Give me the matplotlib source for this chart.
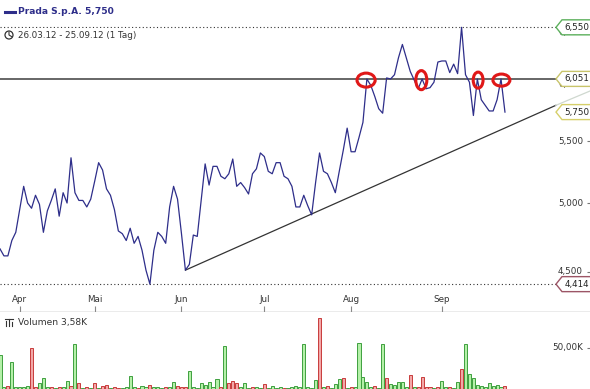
import matplotlib
matplotlib.use("Agg")
import matplotlib.pyplot as plt
from matplotlib.patches import Ellipse, Polygon, Circle
from matplotlib.transforms import blended_transform_factory, IdentityTransform
from matplotlib.ticker import NullLocator
from matplotlib.lines import Line2D

# ---------------- data ----------------
close = [4.66, 4.61, 4.61, 4.72, 4.78, 4.95, 5.13, 5.00, 4.96, 5.06,
         4.99, 4.78, 4.94, 5.02, 5.11, 4.90, 5.08, 5.00, 5.36, 5.08,
         5.02, 5.02, 4.97, 5.03, 5.17, 5.32, 5.26, 5.11, 5.06, 4.95,
         4.79, 4.77, 4.72, 4.81, 4.70, 4.75, 4.65, 4.51, 4.414, 4.65,
         4.78, 4.75, 4.70, 4.97, 5.13, 5.03, 4.77, 4.51, 4.55, 4.76,
         4.75, 5.02, 5.31, 5.14, 5.29, 5.29, 5.21, 5.19, 5.23, 5.35,
         5.13, 5.16, 5.12, 5.07, 5.23, 5.27, 5.40, 5.37, 5.25, 5.23,
         5.32, 5.32, 5.21, 5.19, 5.13, 4.97, 4.97, 5.06, 4.98, 4.91,
         5.16, 5.40, 5.25, 5.23, 5.16, 5.08, 5.25, 5.42, 5.61, 5.41,
         5.41, 5.53, 5.66, 6.05, 5.99, 5.89, 5.78, 5.74, 6.06, 6.05,
         6.09, 6.25, 6.38, 6.25, 6.12, 6.04, 5.96, 6.05, 5.96, 5.97,
         6.02, 6.21, 6.22, 6.22, 6.11, 6.19, 6.10, 6.55, 6.09, 6.02,
         5.72, 6.05, 5.86, 5.81, 5.76, 5.76, 5.86, 6.05, 5.75]

volume_k = [41, 2, 4, 33, 2, 2, 2, 4, 50, 2,
            7, 13, 2, 2, 1, 2, 2, 10, 4, 55,
            7, 1, 2, 1, 7, 1, 4, 5, 1, 2,
            1, 1, 2, 16, 2, 1, 4, 2, 5, 2,
            2, 1, 2, 3, 8, 4, 2, 3, 22, 2,
            1, 7, 5, 8, 2, 12, 2, 52, 7, 10,
            7, 2, 7, 1, 2, 2, 1, 6, 1, 4,
            1, 2, 1, 1, 2, 4, 2, 55, 2, 1,
            11, 87, 2, 4, 1, 6, 12, 13, 1, 2,
            2, 56, 15, 9, 2, 4, 1, 55, 13, 6,
            5, 8, 9, 2, 17, 3, 2, 15, 2, 2,
            1, 3, 10, 2, 3, 1, 8, 24, 55, 18,
            13, 5, 4, 2, 7, 4, 5, 2, 3.58]

volume_dir = list("ggrgggggrr" "gggrgrggrg" "rgrgrgrrgr" "rggggrggrg"
                  "ggrggrrrgg" "ggggggrgrr" "rgggrggrgg" "ggrggggggg"
                  "grgrgggrgr" "gggggrggrg" "ggggrgrrrr" "grggrggrgg"
                  "ggggggggr")

month_idx = [5, 24, 46, 67, 89, 112]
month_lbl = ["Apr", "Mai", "Jun", "Jul", "Aug", "Sep"]

price_ticks = [4.5, 5.0, 5.5, 6.0, 6.5]
level_high = 6.550
level_low = 4.414
level_res = 6.051
last_price = 5.750

trend_x = [47, 140.9]
trend_y = [4.51, 5.81]
trend_ext_x = [140.9, 149.6]
trend_ext_y = [5.81, 5.94]

circle_x = [92.8, 106.8, 121.2, 127.1]
circle_y = [6.04, 6.04, 6.04, 6.04]
circle_w = [4.6, 2.8, 2.5, 4.3]
circle_h = [0.13, 0.177, 0.149, 0.112]

# ---------------- layout ----------------
W, H = 590, 389
fig = plt.figure(figsize=(W / 100, H / 100), dpi=100)
fig.patch.set_facecolor("white")

def fy(py):
    return 1 - py / H

ax = fig.add_axes([0, fy(312), 1, 312 / H])
axv = fig.add_axes([0, 0, 1, 77 / H])

days = list(range(len(close)))
XMAX = 590 / 3.945

LINE = "#2e2e8a"

ax.set_yscale("log")
ax.set_xlim(0, XMAX)
ax.set_ylim(4.229, 6.831)
ax.yaxis.set_minor_locator(NullLocator())
ax.set_yticks(price_ticks)
ax.yaxis.tick_right()
ax.tick_params(axis="y", direction="in", length=2.5, color="#777",
               labelright=False, labelleft=False)
ax.set_xticks(month_idx)
ax.tick_params(axis="x", direction="in", length=4, color="#888",
               labelbottom=False)
for s in ["top", "left", "right"]:
    ax.spines[s].set_visible(False)
ax.spines["bottom"].set_color("#9a9a9a")
ax.spines["bottom"].set_linewidth(1.0)

bt = blended_transform_factory(ax.transData, ax.transAxes)
for i, l in zip(month_idx, month_lbl):
    ax.text(i, (312 - 299) / 312, l, transform=bt, ha="center", va="center",
            fontsize=6.3, color="#333333")

yt = blended_transform_factory(ax.transAxes, ax.transData)
for v in price_ticks:
    ax.text(583 / 590, v, f"{v:.3f}".replace(".", ","), transform=yt,
            ha="right", va="center", fontsize=6.3, color="#333333")

tip = 556 / 590
ax.plot([0, tip], [level_high, level_high], transform=yt, color="#333333",
        lw=0.8, ls=(0, (1, 2.2)), zorder=2)
ax.plot([0, tip], [level_low, level_low], transform=yt, color="#333333",
        lw=0.8, ls=(0, (1, 2.2)), zorder=2)
ax.plot([0, tip], [level_res, level_res], transform=yt, color="#5a5a5a",
        lw=1.3, zorder=2)

ax.plot(trend_x, trend_y, color="#333333", lw=0.9, zorder=3)
ax.plot(trend_ext_x, trend_ext_y, color="#cfd8cf", lw=0.9, zorder=3)

ax.plot(days, close, color=LINE, lw=0.9, zorder=4, clip_on=False)

for cx, cy, cw, ch in zip(circle_x, circle_y, circle_w, circle_h):
    ax.add_patch(Ellipse((cx, cy), cw, ch, fill=False, edgecolor="#e01818",
                         lw=2.2, zorder=6))

# tags on the right
def tag(val, ec, txt):
    y = ax.transData.transform((0, val))[1]
    pts = [(556, y), (562, y + 7.5), (592, y + 7.5), (592, y - 7.5),
           (562, y - 7.5)]
    fig.add_artist(Polygon(pts, closed=True, transform=IdentityTransform(),
                           facecolor="white", edgecolor=ec, lw=1.0,
                           zorder=20))
    fig.text(577, y, txt, transform=IdentityTransform(), ha="center",
             va="center", fontsize=6.3, color="#222222", zorder=21)

tag(level_high, "#5cb05c", "6,550")
tag(level_res, "#c8c46a", "6,051")
tag(last_price, "#d6cf6a", "5,750")
tag(level_low, "#9c5566", "4,414")

# header texts
ID = IdentityTransform()
fig.add_artist(Line2D([5, 15], [H - 12, H - 12], transform=ID, color=LINE,
                      lw=2.2))
fig.text(18, H - 12, "Prada S.p.A. 5,750", transform=ID, va="center",
         ha="left", fontsize=6.6, color=LINE, fontweight="bold")

fig.add_artist(Circle((9, H - 35), 4, transform=ID, fill=False,
                      edgecolor="#333333", lw=0.9))
fig.add_artist(Line2D([9, 9, 11.5], [H - 32, H - 35, H - 36.5],
                      transform=ID, color="#333333", lw=0.8))
fig.text(18, H - 35, "26.03.12 - 25.09.12 (1 Tag)", transform=ID,
         va="center", ha="left", fontsize=6.3, color="#333333",
         bbox=dict(facecolor="white", edgecolor="none", pad=1.5))

# ---------------- volume ----------------
axv.set_xlim(0, XMAX)
axv.set_ylim(0, 93.9)
GF, GE = "#b4f0a8", "#3fa03f"
RF, RE = "#f2a8a8", "#c83c3c"
fc = [GF if d == "g" else RF for d in volume_dir]
ec = [GE if d == "g" else RE for d in volume_dir]
axv.bar(days, volume_k, width=0.78, color=fc, edgecolor=ec, linewidth=0.7)
for s in ["top", "left", "right", "bottom"]:
    axv.spines[s].set_visible(False)
axv.set_xticks([])
axv.yaxis.tick_right()
axv.set_yticks([50])
axv.tick_params(axis="y", direction="in", length=2.5, color="#777",
                labelright=False)
vt = blended_transform_factory(axv.transAxes, axv.transData)
axv.text(583 / 590, 50, "50,00K", transform=vt, ha="right", va="center",
         fontsize=6.3, color="#333333")

# volume header
for bx, bh in [(6, 5), (9, 7), (12, 4)]:
    fig.add_artist(Line2D([bx, bx], [H - 326, H - 326 + bh], transform=ID,
                          color="#333333", lw=0.8))
fig.add_artist(Line2D([5, 13], [H - 319, H - 319], transform=ID,
                      color="#333333", lw=0.8))
fig.text(18, H - 322, "Volumen 3,58K", transform=ID, va="center",
         ha="left", fontsize=6.6, color="#333333")

fig.savefig("out.png", dpi=100, facecolor="white")
